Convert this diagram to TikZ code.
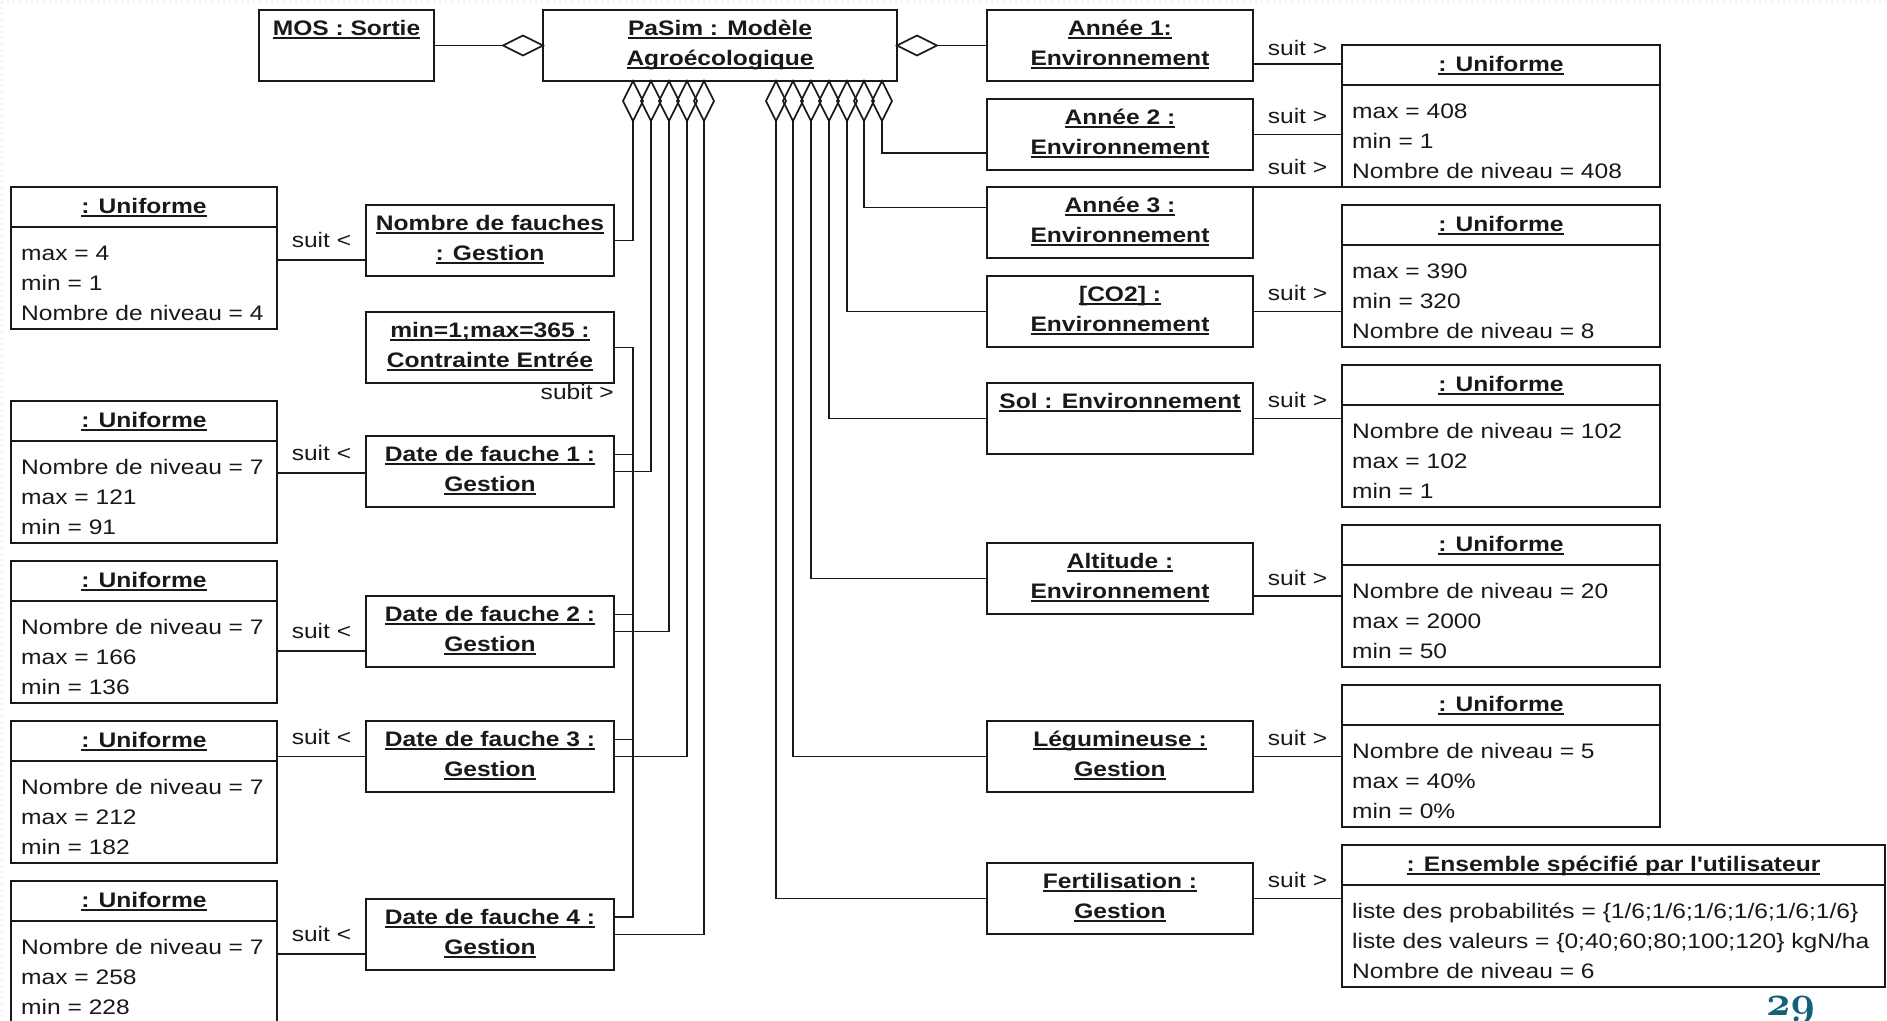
\documentclass[tikz,border=0pt]{standalone}
\usepackage{fontspec}
\newfontfamily\umlfont[FakeStretch=1.17]{Liberation Sans}
\usetikzlibrary{shapes.geometric}
\definecolor{ink}{RGB}{25,25,25}
\definecolor{pagenum}{RGB}{20,96,118}

% underline that sits just under the baseline and crosses descenders
\newsavebox\ulbox
\newcommand\uln[1]{\sbox\ulbox{#1}\rlap{\rule[-3.6pt]{\wd\ulbox}{1.3pt}}\usebox\ulbox}

\tikzset{
  umlline/.style={line width=1.6pt, draw=ink},
  objbox/.style={umlline, anchor=north west, inner sep=0pt, outer sep=0pt, minimum height=71pt},
  unibox/.style={objbox, minimum height=142pt},
  agg/.style={diamond, umlline, inner sep=0pt, outer sep=0pt},
  aggv/.style={agg, minimum width=20pt, minimum height=40pt, anchor=north},
  aggh/.style={agg, minimum width=40pt, minimum height=20pt},
  ttl/.style={font=\umlfont\fontsize{21}{26}\selectfont\bfseries, text=ink, anchor=base, inner sep=0pt},
  attr/.style={font=\umlfont\fontsize{21}{26}\selectfont, text=ink, anchor=base west, inner sep=0pt},
  lbl/.style={font=\umlfont\fontsize{21}{26}\selectfont, text=ink, anchor=base, inner sep=0pt},
}

% object box with a two-line underlined name
\newcommand\ObjBox[6]{%
  \node[objbox, minimum width=#4pt] (#1) at (#2,#3) {};
  \node[ttl] (#1-l1) at ([yshift=-25pt]#1.north) {\uln{#5}};
  \node[ttl] (#1-l2) at ([yshift=-55pt]#1.north) {\uln{#6}};
}
% object box with a one-line underlined name
\newcommand\ObjBoxOne[5]{%
  \node[objbox, minimum width=#4pt] (#1) at (#2,#3) {};
  \node[ttl] (#1-l1) at ([yshift=-25pt]#1.north) {\uln{#5}};
}
% distribution object: name compartment and three attribute lines
\newcommand\UniBox[8]{%
  \node[unibox, minimum width=#4pt] (#1) at (#2,#3) {};
  \draw[umlline] ([yshift=-40pt]#1.north west) -- ([yshift=-40pt]#1.north east);
  \node[ttl] (#1-t) at ([yshift=-26pt]#1.north) {\uln{#5}};
  \node[attr] (#1-a1) at ([xshift=10pt,yshift=-73pt]#1.north west) {#6};
  \node[attr] (#1-a2) at ([xshift=10pt,yshift=-103pt]#1.north west) {#7};
  \node[attr] (#1-a3) at ([xshift=10pt,yshift=-133pt]#1.north west) {#8};
}

\begin{document}
\begin{tikzpicture}[x=1pt,y=-1pt]
\fill[white] (0,0) rectangle (1887,1020);
\useasboundingbox (0,0) rectangle (1887,1020);
\draw[black!8, line width=2pt, line cap=round, dash pattern=on 0pt off 6pt] (2,1.5) -- (1887,1.5);
\draw[black!8, line width=2pt, line cap=round, dash pattern=on 0pt off 6pt] (1.5,2) -- (1.5,1020);

% ---------- top row ----------
\ObjBoxOne{mos}{259}{10}{175}{MOS : Sortie}
\ObjBox{pasim}{543}{10}{354}{PaSim : Modèle}{Agroécologique}

% ---------- environment and management inputs (right) ----------
\ObjBox{a1}{987}{10}{266}{Année 1:}{Environnement}
\ObjBox{a2}{987}{99}{266}{Année 2 :}{Environnement}
\ObjBox{a3}{987}{187}{266}{Année 3 :}{Environnement}
\ObjBox{co2}{987}{276}{266}{[CO2] :}{Environnement}
\ObjBoxOne{sol}{987}{383}{266}{Sol : Environnement}
\ObjBox{alt}{987}{543}{266}{Altitude :}{Environnement}
\ObjBox{leg}{987}{721}{266}{Légumineuse :}{Gestion}
\ObjBox{fert}{987}{863}{266}{Fertilisation :}{Gestion}

\UniBox{r1}{1342}{45}{318}{: Uniforme}{max = 408}{min = 1}{Nombre de niveau = 408}
\UniBox{r2}{1342}{205}{318}{: Uniforme}{max = 390}{min = 320}{Nombre de niveau = 8}
\UniBox{r3}{1342}{365}{318}{: Uniforme}{Nombre de niveau = 102}{max = 102}{min = 1}
\UniBox{r4}{1342}{525}{318}{: Uniforme}{Nombre de niveau = 20}{max = 2000}{min = 50}
\UniBox{r5}{1342}{685}{318}{: Uniforme}{Nombre de niveau = 5}{max = 40\%}{min = 0\%}
\UniBox{ens}{1342}{845}{543}{: Ensemble spécifié par l'utilisateur}{liste des probabilités = \{1/6;1/6;1/6;1/6;1/6;1/6\}}{liste des valeurs = \{0;40;60;80;100;120\} kgN/ha}{Nombre de niveau = 6}

% ---------- mowing management inputs (left) ----------
\ObjBox{nf}{366}{205}{248}{Nombre de fauches}{: Gestion}
\ObjBox{ctr}{366}{312}{248}{min=1;max=365 :}{Contrainte Entrée}
\ObjBox{df1}{366}{436}{248}{Date de fauche 1 :}{Gestion}
\ObjBox{df2}{366}{596}{248}{Date de fauche 2 :}{Gestion}
\ObjBox{df3}{366}{721}{248}{Date de fauche 3 :}{Gestion}
\ObjBox{df4}{366}{899}{248}{Date de fauche 4 :}{Gestion}

\UniBox{uL1}{11}{187}{266}{: Uniforme}{max = 4}{min = 1}{Nombre de niveau = 4}
\UniBox{uL2}{11}{401}{266}{: Uniforme}{Nombre de niveau = 7}{max = 121}{min = 91}
\UniBox{uL3}{11}{561}{266}{: Uniforme}{Nombre de niveau = 7}{max = 166}{min = 136}
\UniBox{uL4}{11}{721}{266}{: Uniforme}{Nombre de niveau = 7}{max = 212}{min = 182}
\UniBox{uL5}{11}{881}{266}{: Uniforme}{Nombre de niveau = 7}{max = 258}{min = 228}

% ---------- aggregation diamonds on the model ----------
\node[aggh, anchor=east] (dmos) at (pasim.west) {};
\node[aggh, anchor=west] (dyr) at (pasim.east) {};
\foreach \i/\x in {1/633,2/651,3/669,4/687,5/704}
  \node[aggv] (dl\i) at (\x,81) {};
\foreach \i/\x in {1/776,2/793,3/811,4/829,5/847,6/864,7/882}
  \node[aggv] (dr\i) at (\x,81) {};

\draw[umlline] (mos.east) -- (dmos.west);
\draw[umlline] (dyr.east) -- (a1.west);

% left aggregation links
\draw[umlline] (dl1.south) |- (nf.east);
\draw[umlline] (dl2.south) |- (df1.east);
\draw[umlline] (dl3.south) |- (df2.east);
\draw[umlline] (dl4.south) |- (df3.east);
\draw[umlline] (dl5.south) |- (df4.east);

% right aggregation links
\draw[umlline] (dr7.south) |- ([yshift=-18.5pt]a2.west);
\draw[umlline] (dr6.south) |- ([yshift=15pt]a3.west);
\draw[umlline] (dr5.south) |- (co2.west);
\draw[umlline] (dr4.south) |- (sol.west);
\draw[umlline] (dr3.south) |- (alt.west);
\draw[umlline] (dr2.south) |- (leg.west);
\draw[umlline] (dr1.south) |- (fert.west);

% input constraint shared by the mowing dates
\coordinate (cbus) at ([yshift=17.5pt]df4.east -| dl1.south);
\draw[umlline] (ctr.east) -| (cbus) -- ([yshift=17.5pt]df4.east);
\foreach \n in {df1,df2,df3}
  \draw[umlline] ([yshift=17pt]\n.east) -- ([yshift=17pt]\n.east -| cbus);
\node[lbl, anchor=base east] (subit) at ([yshift=-16pt]ctr.south east) {subit >};

% distribution links (right)
\draw[umlline] ([yshift=-18.5pt]a1.east) -- ([yshift=-18.5pt]a1.east -| r1.west)
  node[lbl, midway, yshift=9pt] (s-a1) {suit >};
\draw[umlline] (a2.east) -- (a2.east -| r1.west)
  node[lbl, midway, yshift=11.5pt] (s-a2) {suit >};
\draw[umlline] (a3.north east) -- (a3.north east -| r1.west)
  node[lbl, midway, yshift=12.5pt] (s-a3) {suit >};
\draw[umlline] (co2.east) -- (co2.east -| r2.west)
  node[lbl, midway, yshift=11pt] (s-co2) {suit >};
\draw[umlline] (sol.east) -- (sol.east -| r3.west)
  node[lbl, midway, yshift=11pt] (s-sol) {suit >};
\draw[umlline] ([yshift=-17.5pt]alt.east) -- ([yshift=-17.5pt]alt.east -| r4.west)
  node[lbl, midway, yshift=11pt] (s-alt) {suit >};
\draw[umlline] (leg.east) -- (leg.east -| r5.west)
  node[lbl, midway, yshift=11pt] (s-leg) {suit >};
\draw[umlline] (fert.east) -- (fert.east -| ens.west)
  node[lbl, midway, yshift=11pt] (s-fert) {suit >};

% distribution links (left)
\draw[umlline] ([yshift=-19.5pt]nf.west) -- ([yshift=-19.5pt]nf.west -| uL1.east)
  node[lbl, midway, yshift=12.5pt] (s-nf) {suit <};
\draw[umlline] ([yshift=-1.5pt]df1.west) -- ([yshift=-1.5pt]df1.west -| uL2.east)
  node[lbl, midway, yshift=12.5pt] (s-df1) {suit <};
\draw[umlline] ([yshift=-19.5pt]df2.west) -- ([yshift=-19.5pt]df2.west -| uL3.east)
  node[lbl, midway, yshift=12.5pt] (s-df2) {suit <};
\draw[umlline] (df3.west) -- (df3.west -| uL4.east)
  node[lbl, midway, yshift=12.5pt] (s-df3) {suit <};
\draw[umlline] ([yshift=-19.5pt]df4.west) -- ([yshift=-19.5pt]df4.west -| uL5.east)
  node[lbl, midway, yshift=12.5pt] (s-df4) {suit <};

% slide number in old-style figures
\node[anchor=base west, inner sep=0pt, text=pagenum] (pnum) at (1766,1015)
  {\scalebox{1.7}{\usefont{OML}{cmm}{b}{it}\fontsize{24.88}{25}\selectfont 29}};
\end{tikzpicture}
\end{document}
